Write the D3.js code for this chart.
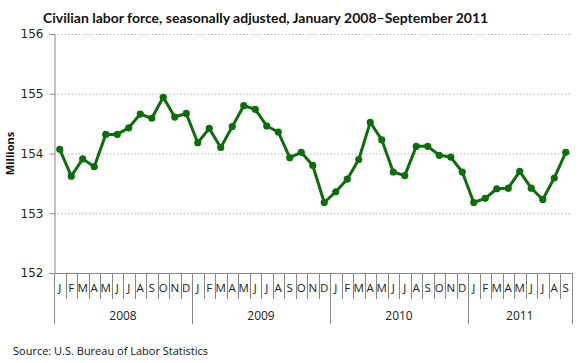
<!DOCTYPE html>
<html>
<head>
<meta charset="utf-8">
<script src="https://cdn.jsdelivr.net/npm/d3@7"></script>
<style>
  body { margin: 0; background: #fff; }
  text { font-family: "Open Sans", "DejaVu Sans", sans-serif; }
</style>
</head>
<body>
<div id="chart"></div>
<script>
// civilian labor force, millions, Jan 2008 - Sep 2011
const years = ["2008", "2009", "2010", "2011"];
const monthLetters = ["J", "F", "M", "A", "M", "J", "J", "A", "S", "O", "N", "D"];
const values = [
  154.07, 153.62, 153.91, 153.78, 154.32, 154.32, 154.43, 154.66, 154.59, 154.94, 154.61, 154.67,
  154.18, 154.42, 154.10, 154.45, 154.80, 154.74, 154.46, 154.36, 153.93, 154.02, 153.80, 153.18,
  153.36, 153.57, 153.90, 154.52, 154.23, 153.69, 153.63, 154.12, 154.12, 153.97, 153.94, 153.69,
  153.18, 153.25, 153.41, 153.42, 153.70, 153.42, 153.23, 153.59, 154.02
];
const yTicks = [152, 153, 154, 155, 156];

const W = 580, H = 363;
const margin = {top: 34, right: 8.5, bottom: 90, left: 54};

const svg = d3.select("#chart").append("svg")
  .attr("width", W)
  .attr("height", H);

const months = values.map((v, i) => ({
  key: i,
  year: years[Math.floor(i / 12)],
  letter: monthLetters[i % 12],
  value: v
}));

const x = d3.scaleBand()
  .domain(months.map(d => d.key))
  .range([margin.left, W - margin.right]);

const y = d3.scaleLinear()
  .domain([152, 156])
  .range([H - margin.bottom, margin.top]);

const bottom = H - margin.bottom;

// title
svg.append("text")
  .attr("x", 43)
  .attr("y", 23)
  .attr("font-size", 14)
  .attr("font-weight", "bold")
  .attr("fill", "#111")
  .style("font-family", "Lato, 'Open Sans', sans-serif")
  .text("Civilian labor force, seasonally adjusted, January 2008\u2013September 2011");

// gridlines
svg.append("g")
  .selectAll("line")
  .data(yTicks.filter(t => t > 152))
  .join("line")
  .attr("x1", margin.left)
  .attr("x2", W - margin.right)
  .attr("y1", d => y(d) + 0.5)
  .attr("y2", d => y(d) + 0.5)
  .attr("stroke", "#b5b5b5")
  .attr("stroke-dasharray", "1.5,2");

// y axis
const yAxis = svg.append("g")
  .attr("transform", `translate(${margin.left + 0.5},0)`)
  .call(d3.axisLeft(y).tickValues(yTicks).tickSize(5).tickFormat(d3.format("d")));
yAxis.select(".domain").attr("stroke", "#868686");
yAxis.selectAll(".tick line").attr("stroke", "#868686");
yAxis.selectAll(".tick text")
  .attr("fill", "#222")
  .attr("x", -11)
  .style("font-family", "'DejaVu Sans', sans-serif")
  .style("font-size", "12px");

svg.append("text")
  .attr("transform", `translate(14,${(y(154.5) + y(153.5)) / 2}) rotate(-90)`)
  .attr("text-anchor", "middle")
  .attr("font-size", 11)
  .attr("font-weight", "bold")
  .attr("fill", "#111")
  .text("Millions");

// x axis base line
svg.append("line")
  .attr("x1", margin.left)
  .attr("x2", W - margin.right)
  .attr("y1", bottom + 0.5)
  .attr("y2", bottom + 0.5)
  .attr("stroke", "#868686");

// month separators
svg.append("g")
  .selectAll("line")
  .data(d3.range(values.length + 1))
  .join("line")
  .attr("x1", i => Math.round(margin.left + i * x.step()) + 0.5)
  .attr("x2", i => Math.round(margin.left + i * x.step()) + 0.5)
  .attr("y1", bottom)
  .attr("y2", i => (i % 12 === 0 || i === values.length) ? bottom + 51 : bottom + 26)
  .attr("stroke", "#868686");

// month letters
svg.append("g")
  .selectAll("text")
  .data(months)
  .join("text")
  .attr("x", d => x(d.key) + x.bandwidth() / 2)
  .attr("y", bottom + 19)
  .attr("text-anchor", "middle")
  .attr("font-size", 11.5)
  .attr("fill", "#222")
  .text(d => d.letter);

// year labels
svg.append("g")
  .selectAll("text")
  .data(years)
  .join("text")
  .attr("x", yr => {
    const ms = months.filter(d => d.year === yr);
    return (x(ms[0].key) + x(ms[ms.length - 1].key) + x.bandwidth()) / 2;
  })
  .attr("y", bottom + 47)
  .attr("text-anchor", "middle")
  .attr("font-size", 12)
  .attr("fill", "#222")
  .text(d => d);

// line
const line = d3.line()
  .x(d => x(d.key) + x.bandwidth() / 2)
  .y(d => y(d.value));

svg.append("path")
  .datum(months)
  .attr("fill", "none")
  .attr("stroke", "#0b6e0b")
  .attr("stroke-width", 3)
  .attr("stroke-linejoin", "round")
  .attr("d", line);

svg.append("g")
  .selectAll("circle")
  .data(months)
  .join("circle")
  .attr("cx", d => x(d.key) + x.bandwidth() / 2)
  .attr("cy", d => y(d.value))
  .attr("r", 3.6)
  .attr("fill", "#0b6e0b");

// source
svg.append("text")
  .attr("x", 13)
  .attr("y", 355)
  .attr("font-size", 11)
  .attr("fill", "#111")
  .text("Source: U.S. Bureau of Labor Statistics");
</script>
</body>
</html>
